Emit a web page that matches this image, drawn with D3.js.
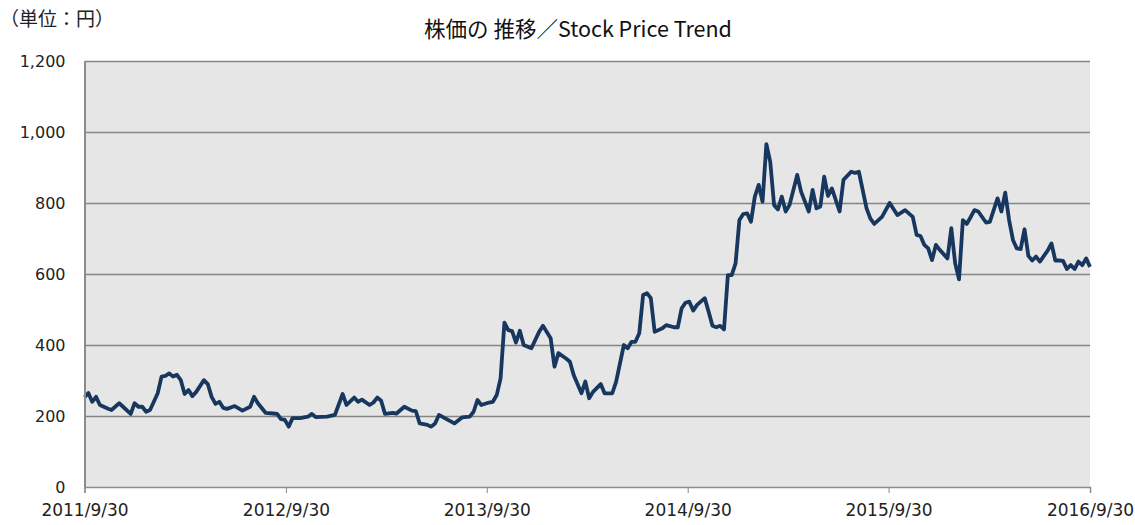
<!DOCTYPE html>
<html>
<head>
<meta charset="utf-8">
<script src="https://cdn.jsdelivr.net/npm/d3@7"></script>
<style>
  body { margin: 0; background: #fff; }
  svg { display: block; }
  .axis path, .axis line { stroke: #8c8c8c; }
  .axis text { fill: #222; }
  .grid line { stroke: #858585; stroke-width: 1.3; }
  .grid path { display: none; }
</style>
</head>
<body>
<svg id="chart" width="1135" height="525"></svg>
<script>
// 株価データ（週次）: 2011/9/30 からの週数と終値
const weeks = [
  0, 1, 2, 3, 4, 6, 7, 9, 10, 12, 13, 14, 15, 16, 17, 18, 19, 20, 21, 22,
  23, 24, 25, 26, 27, 28, 29, 31, 32, 33, 34, 35, 36, 37, 39, 41, 43, 44, 45, 47,
  49, 50, 51, 52, 53, 54, 56, 58, 59, 60, 63, 65, 67, 68, 70, 71, 72, 74, 75, 76,
  77, 78, 80, 81, 83, 85, 86, 87, 89, 90, 91, 92, 94, 96, 98, 100, 101, 102, 103, 105,
  106, 107, 108, 109, 110, 111, 112, 113, 114, 116, 118, 119, 121, 122, 123, 125, 126, 127, 129, 130,
  131, 132, 134, 135, 137, 138, 140, 141, 142, 143, 144, 145, 146, 147, 148, 150, 151, 153, 154, 155,
  156, 157, 158, 159, 161, 162, 163, 164, 165, 166, 167, 168, 169, 170, 171, 172, 173, 174, 175, 176,
  177, 178, 179, 180, 181, 182, 183, 185, 186, 188, 189, 190, 191, 192, 193, 194, 196, 197, 199, 200,
  201, 203, 204, 205, 207, 209, 211, 213, 215, 216, 217, 218, 219, 220, 221, 222, 224, 225, 226, 227,
  228, 229, 230, 231, 232, 234, 235, 237, 238, 239, 240, 241, 242, 243, 244, 245, 246, 247, 248, 250,
  251, 252, 253, 254, 255, 256, 257, 258, 259, 260, 261
];
const prices = [
  253, 265, 240, 254, 231, 221, 217, 236, 226, 206, 236, 226, 226, 212, 217, 240, 264, 311, 313, 320,
  311, 316, 301, 262, 273, 256, 268, 301, 290, 254, 234, 240, 223, 220, 228, 215, 226, 254, 236, 209,
  207, 206, 191, 189, 170, 194, 194, 198, 206, 197, 198, 203, 262, 231, 252, 240, 246, 231, 238, 252,
  243, 206, 209, 207, 226, 215, 214, 179, 175, 170, 179, 203, 191, 179, 196, 198, 212, 245, 231, 238,
  240, 259, 306, 463, 442, 439, 407, 440, 400, 391, 437, 454, 419, 339, 377, 362, 353, 315, 264, 297,
  250, 268, 290, 264, 264, 297, 400, 391, 409, 409, 433, 541, 546, 532, 437, 447, 456, 450, 450, 503,
  519, 522, 497, 513, 532, 494, 454, 450, 454, 444, 597, 597, 630, 752, 769, 771, 747, 818, 851, 804,
  966, 916, 794, 782, 818, 776, 794, 879, 832, 776, 837, 785, 790, 874, 820, 841, 776, 865, 888, 885,
  888, 785, 756, 741, 761, 800, 766, 780, 761, 710, 707, 682, 672, 639, 682, 668, 644, 729, 630, 585,
  752, 741, 760, 780, 776, 745, 747, 813, 776, 829, 752, 696, 672, 670, 726, 651, 638, 649, 635, 666,
  686, 638, 638, 637, 614, 625, 614, 635, 625, 644, 620
];
const xTickLabels = ["2011/9/30", "2012/9/30", "2013/9/30", "2014/9/30", "2015/9/30", "2016/9/30"];
const yTicks = [0, 200, 400, 600, 800, 1000, 1200];

const title = "株価の 推移／Stock Price Trend";
const unitLabel = "（単位：円）";

const margin = { top: 61, right: 45, bottom: 38, left: 84.5 };
const W = 1135, H = 525;
const plotW = W - margin.left - margin.right;
const plotH = H - margin.top - margin.bottom;

const parseDate = d3.timeParse("%Y/%m/%d");
const startDate = parseDate(xTickLabels[0]);
const data = weeks.map((w, i) => ({ date: d3.timeDay.offset(startDate, w * 7), value: prices[i] }));

const svg = d3.select("#chart");

const x = d3.scaleTime()
    .domain([startDate, parseDate(xTickLabels[xTickLabels.length - 1])])
    .range([0, plotW]);
const y = d3.scaleLinear()
    .domain([0, 1200])
    .range([plotH, 0]);

const g = svg.append("g")
    .attr("transform", `translate(${margin.left},${margin.top})`);

// 背景
g.append("rect")
    .attr("width", plotW)
    .attr("height", plotH)
    .attr("fill", "#e6e6e6");

// グリッド線
g.append("g")
    .attr("class", "grid")
    .call(d3.axisLeft(y).tickValues(yTicks.slice(1)).tickSize(-plotW).tickFormat(""));

// 株価ライン
const line = d3.line()
    .x(d => x(d.date))
    .y(d => y(d.value));

g.append("path")
    .datum(data)
    .attr("fill", "none")
    .attr("stroke", "#17375e")
    .attr("stroke-width", 3.8)
    .attr("stroke-linejoin", "round")
    .attr("d", line);

// X軸
g.append("g")
    .attr("class", "axis")
    .attr("transform", `translate(0,${plotH})`)
    .call(d3.axisBottom(x)
        .tickValues(xTickLabels.map(parseDate))
        .tickSize(6)
        .tickFormat(d3.timeFormat("%Y/%-m/%-d")))
    .call(a => a.select(".domain").attr("stroke-width", 1.5))
    .call(a => a.selectAll("text")
        .attr("dy", "1.2em")
        .style("font-family", "'DejaVu Sans', sans-serif")
        .style("font-size", "17px"));

// Y軸
g.append("g")
    .attr("class", "axis")
    .call(d3.axisLeft(y).tickValues(yTicks).tickSize(0).tickPadding(19).tickFormat(d3.format(",")))
    .call(a => a.select(".domain").attr("stroke-width", 2))
    .call(a => a.selectAll("text")
        .style("font-family", "'DejaVu Sans', sans-serif")
        .style("font-size", "16px"));

// タイトル
svg.append("text")
    .attr("x", 578)
    .attr("y", 37)
    .attr("text-anchor", "middle")
    .style("font-family", "'Noto Sans CJK JP', sans-serif")
    .style("font-size", "21.5px")
    .attr("fill", "#111")
    .text(title);

svg.append("text")
    .attr("x", 0)
    .attr("y", 26)
    .style("font-family", "'Noto Sans CJK JP', sans-serif")
    .style("font-size", "19px")
    .attr("fill", "#222")
    .text(unitLabel);
</script>
</body>
</html>
